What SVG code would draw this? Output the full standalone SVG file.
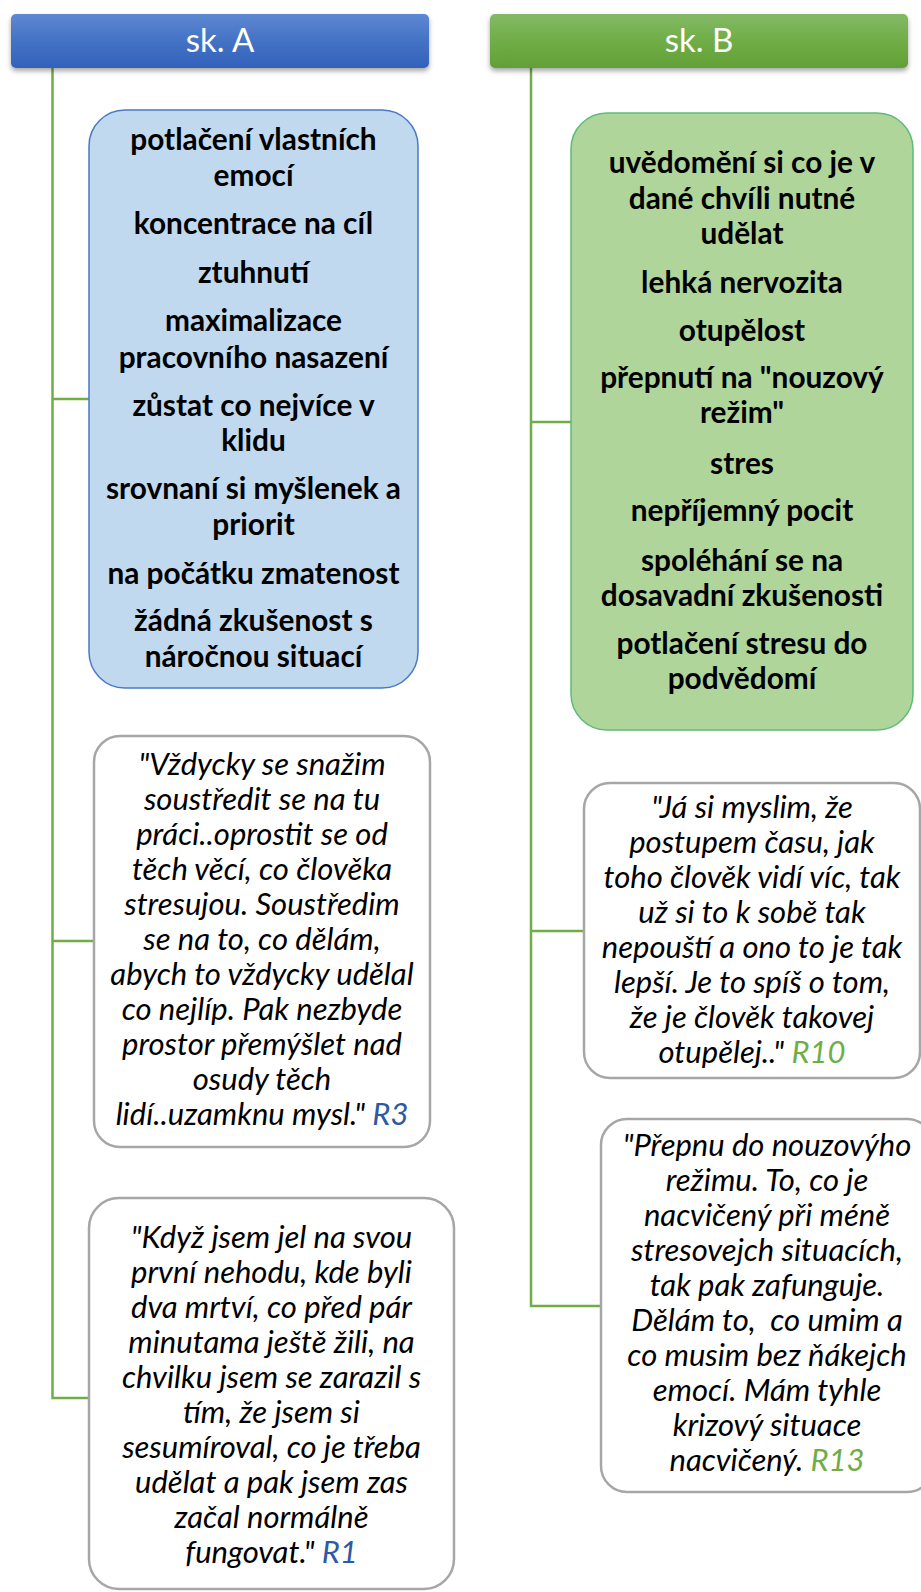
<svg xmlns="http://www.w3.org/2000/svg" width="921" height="1592" viewBox="0 0 921 1592">
<style>
.hdr{font-family:Lato,"Liberation Sans",sans-serif;font-size:33px;fill:#ffffff;text-anchor:middle}
.kw{font-family:Lato,"Liberation Sans",sans-serif;font-size:29.8px;font-weight:bold;fill:#000000;text-anchor:middle}
.q{font-family:Lato,"Liberation Sans",sans-serif;font-size:31px;font-style:italic;fill:#000000;text-anchor:middle}
.rb{fill:#2d59a6}
.rg{fill:#70ad47}
.conn{stroke:#70ad47;stroke-width:2.5;fill:none}
.qbox{fill:#ffffff;stroke:#a6a6a6;stroke-width:2.5}
</style>
<defs>
<linearGradient id="gA" x1="0" y1="0" x2="0" y2="1">
<stop offset="0" stop-color="#5f88d2"/><stop offset="0.5" stop-color="#4472c4"/><stop offset="1" stop-color="#3262bb"/>
</linearGradient>
<linearGradient id="gB" x1="0" y1="0" x2="0" y2="1">
<stop offset="0" stop-color="#84b966"/><stop offset="0.5" stop-color="#70ad47"/><stop offset="1" stop-color="#62a036"/>
</linearGradient>
<filter id="sh" x="-5%" y="-20%" width="110%" height="160%">
<feDropShadow dx="0" dy="3" stdDeviation="2.5" flood-color="#000000" flood-opacity="0.35"/>
</filter>
</defs>
<rect width="921" height="1592" fill="#ffffff"/>

<g id="connectors">
<path class="conn" d="M52.5 68 V1398 H89"/>
<path class="conn" d="M52.5 399 H89"/>
<path class="conn" d="M52.5 941 H94"/>
<path class="conn" d="M531 68 V1306 H601"/>
<path class="conn" d="M531 422 H571"/>
<path class="conn" d="M531 931 H584"/>
</g>

<g id="headerA">
<rect x="11" y="14" width="418" height="54" rx="5" fill="url(#gA)" filter="url(#sh)"/>
<text class="hdr" x="220" y="52">sk. A</text>
</g>
<g id="headerB">
<rect x="490" y="14" width="418" height="54" rx="5" fill="url(#gB)" filter="url(#sh)"/>
<text class="hdr" x="699" y="52">sk. B</text>
</g>

<g id="boxA1">
<rect x="89" y="110" width="329" height="578" rx="36" fill="#c1d9ee" stroke="#4a78c8" stroke-width="1.5"/>
<text class="kw" x="253.5" y="150">potlačení vlastních</text>
<text class="kw" x="253.5" y="186">emocí</text>
<text class="kw" x="253.5" y="234">koncentrace na cíl</text>
<text class="kw" x="253.5" y="283">ztuhnutí</text>
<text class="kw" x="253.5" y="331">maximalizace</text>
<text class="kw" x="253.5" y="368">pracovního nasazení</text>
<text class="kw" x="253.5" y="416">zůstat co nejvíce v</text>
<text class="kw" x="253.5" y="451">klidu</text>
<text class="kw" x="253.5" y="499">srovnaní si myšlenek a</text>
<text class="kw" x="253.5" y="535">priorit</text>
<text class="kw" x="253.5" y="584">na počátku zmatenost</text>
<text class="kw" x="253.5" y="631">žádná zkušenost s</text>
<text class="kw" x="253.5" y="667">náročnou situací</text>
</g>

<g id="boxB1">
<rect x="571" y="113" width="342" height="617" rx="36" fill="#b0d59a" stroke="#5cbb78" stroke-width="1.5"/>
<text class="kw" x="742" y="173">uvědomění si co je v</text>
<text class="kw" x="742" y="209">dané chvíli nutné</text>
<text class="kw" x="742" y="244">udělat</text>
<text class="kw" x="742" y="293">lehká nervozita</text>
<text class="kw" x="742" y="341">otupělost</text>
<text class="kw" x="742" y="388">přepnutí na "nouzový</text>
<text class="kw" x="742" y="423">režim"</text>
<text class="kw" x="742" y="474">stres</text>
<text class="kw" x="742" y="521">nepříjemný pocit</text>
<text class="kw" x="742" y="571">spoléhání se na</text>
<text class="kw" x="742" y="606">dosavadní zkušenosti</text>
<text class="kw" x="742" y="654">potlačení stresu do</text>
<text class="kw" x="742" y="689">podvědomí</text>
</g>

<g id="quoteA2">
<rect class="qbox" x="94" y="736" width="336" height="411" rx="26"/>
<text class="q" x="262" y="775">"Vždycky se snažim</text>
<text class="q" x="262" y="810">soustředit se na tu</text>
<text class="q" x="262" y="845">práci..oprostit se od</text>
<text class="q" x="262" y="880">těch věcí, co člověka</text>
<text class="q" x="262" y="915">stresujou. Soustředim</text>
<text class="q" x="262" y="950">se na to, co dělám,</text>
<text class="q" x="262" y="985">abych to vždycky udělal</text>
<text class="q" x="262" y="1020">co nejlíp. Pak nezbyde</text>
<text class="q" x="262" y="1055">prostor přemýšlet nad</text>
<text class="q" x="262" y="1090">osudy těch</text>
<text class="q" x="262" y="1125">lidí..uzamknu mysl." <tspan class="rb">R3</tspan></text>
</g>

<g id="quoteB2">
<rect class="qbox" x="584" y="783" width="336" height="295" rx="26"/>
<text class="q" x="752" y="818">"Já si myslim, že</text>
<text class="q" x="752" y="853">postupem času, jak</text>
<text class="q" x="752" y="888">toho člověk vidí víc, tak</text>
<text class="q" x="752" y="923">už si to k sobě tak</text>
<text class="q" x="752" y="958">nepouští a ono to je tak</text>
<text class="q" x="752" y="993">lepší. Je to spíš o tom,</text>
<text class="q" x="752" y="1028">že je člověk takovej</text>
<text class="q" x="752" y="1063">otupělej.." <tspan class="rg">R10</tspan></text>
</g>

<g id="quoteA3">
<rect class="qbox" x="89" y="1198" width="365" height="391" rx="30"/>
<text class="q" x="271.5" y="1248">"Když jsem jel na svou</text>
<text class="q" x="271.5" y="1283">první nehodu, kde byli</text>
<text class="q" x="271.5" y="1318">dva mrtví, co před pár</text>
<text class="q" x="271.5" y="1353">minutama ještě žili, na</text>
<text class="q" x="271.5" y="1388">chvilku jsem se zarazil s</text>
<text class="q" x="271.5" y="1423">tím, že jsem si</text>
<text class="q" x="271.5" y="1458">sesumíroval, co je třeba</text>
<text class="q" x="271.5" y="1493">udělat a pak jsem zas</text>
<text class="q" x="271.5" y="1528">začal normálně</text>
<text class="q" x="271.5" y="1563">fungovat." <tspan class="rb">R1</tspan></text>
</g>

<g id="quoteB3">
<rect class="qbox" x="601" y="1119" width="332" height="373" rx="26"/>
<text class="q" x="767" y="1156">"Přepnu do nouzovýho</text>
<text class="q" x="767" y="1191">režimu. To, co je</text>
<text class="q" x="767" y="1226">nacvičený při méně</text>
<text class="q" x="767" y="1261">stresovejch situacích,</text>
<text class="q" x="767" y="1296">tak pak zafunguje.</text>
<text class="q" x="767" y="1331" xml:space="preserve">Dělám to,  co umim a</text>
<text class="q" x="767" y="1366">co musim bez ňákejch</text>
<text class="q" x="767" y="1401">emocí. Mám tyhle</text>
<text class="q" x="767" y="1436">krizový situace</text>
<text class="q" x="767" y="1471">nacvičený. <tspan class="rg">R13</tspan></text>
</g>
</svg>
